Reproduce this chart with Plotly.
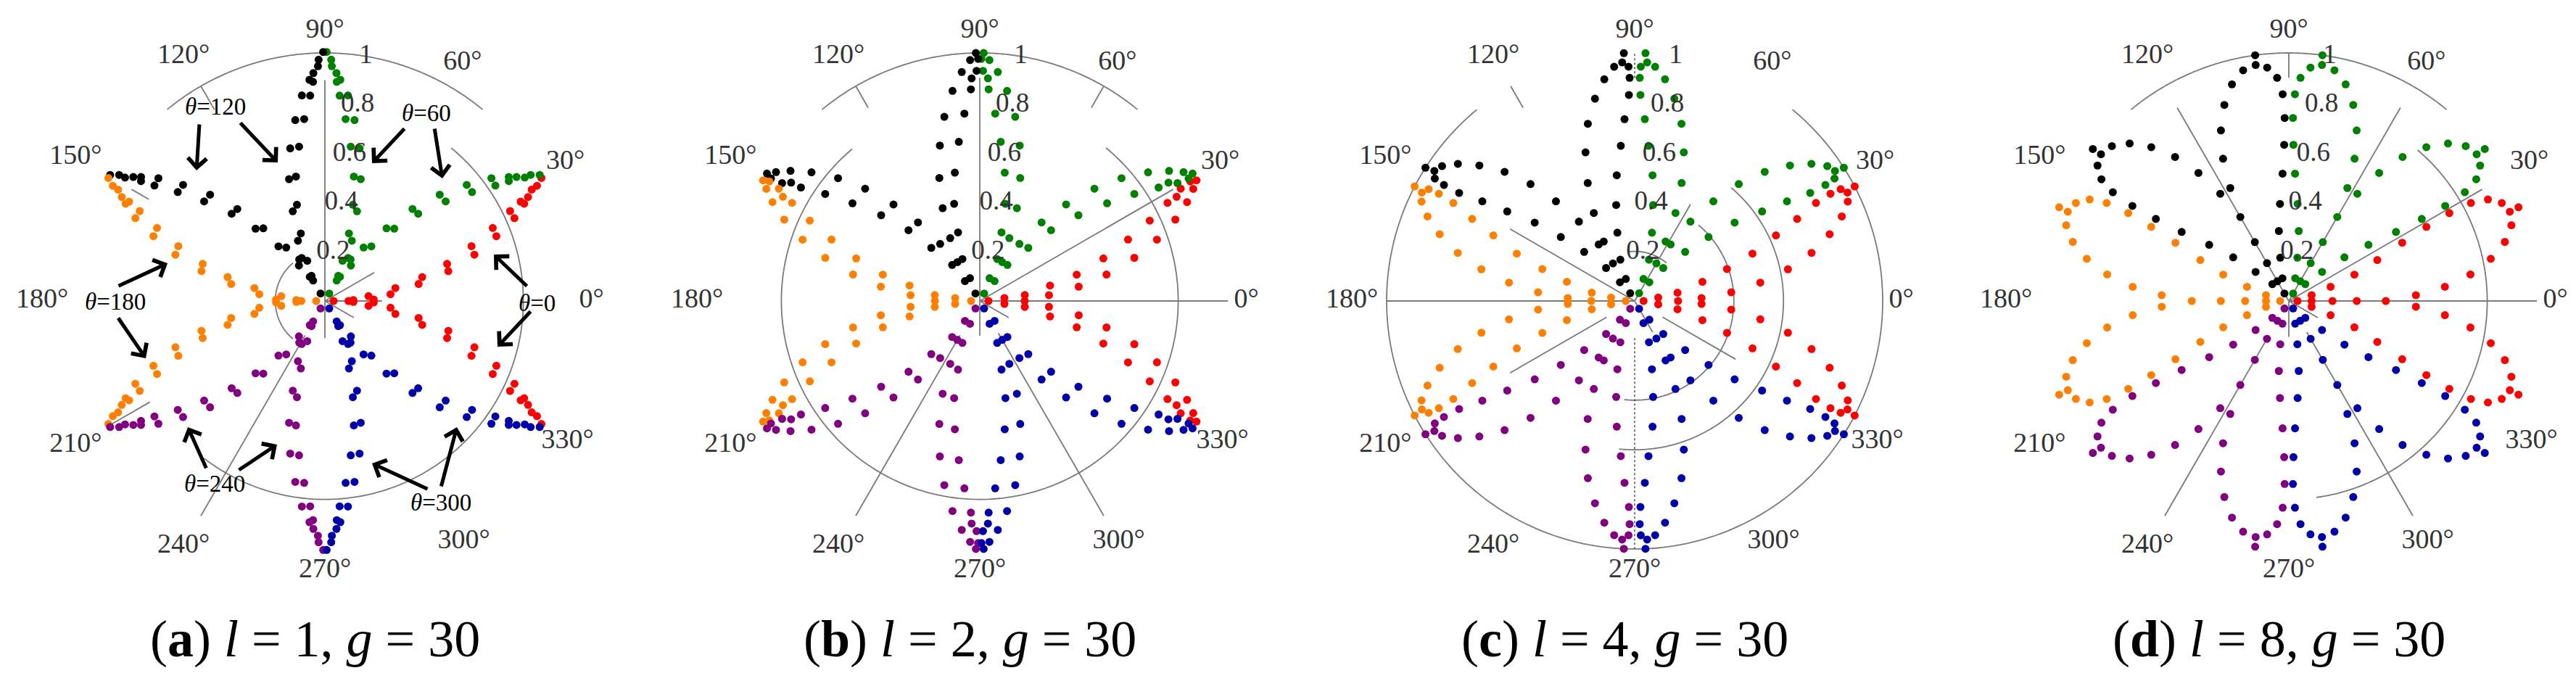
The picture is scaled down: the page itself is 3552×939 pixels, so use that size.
import numpy as np
import plotly.graph_objects as go

W, H = 3552, 939
FONT = "Liberation Serif"
LABEL_GRAY = "#333333"
GRID_GRAY = "#7a7a7a"

# ---------------- data ----------------
SERIES_THETA = [0, 60, 120, 180, 240, 300]
SERIES_COLORS = ["#FF0000", "#008000", "#000000", "#FF8000", "#800080", "#0000A8"]

ANGLE_TICKS = [0, 30, 60, 90, 120, 150, 180, 210, 240, 270, 300, 330]
ANGLE_LABELS = [f"{a}°" for a in ANGLE_TICKS]
RADIAL_TICKS = [0.2, 0.4, 0.6, 0.8, 1.0]
RADIAL_LABELS = ["0.2", "0.4", "0.6", "0.8", "1"]

PANEL_LETTERS = ["a", "b", "c", "d"]
L_VALUES = [1, 2, 4, 8]
G_VALUE = 30

# pattern of the theta=0 series (points on the centre line, and the upper lobe,
# which is mirrored below the centre line); other series are the same pattern
# turned to their own steering angle.
A_AXIS_R = [0.035, 0.095]
A_LOBE_R = [0.115, 0.177, 0.197, 0.266, 0.289, 0.384, 0.404, 0.512, 0.515, 0.631, 0.631,
            0.739, 0.738, 0.834, 0.830, 0.894, 0.885, 0.920, 0.947, 0.973, 1.004]
A_LOBE_PHI = [2.0, 6.3, 1.7, 5.9, 10.4, 10.3, 13.8, 13.6, 16.9, 17.2, 20.5,
              20.7, 23.5, 23.6, 25.9, 26.0, 26.9, 27.1, 28.3, 28.5, 29.6]

B_AXIS_R = [0.035, 0.181]
B_LOBE_R = [0.100, 0.183, 0.280, 0.290, 0.403, 0.405, 0.522, 0.527, 0.647, 0.647,
            0.756, 0.758, 0.854, 0.854, 0.898, 0.926, 0.928, 0.972, 0.976, 1.000]
B_LOBE_PHI = [6.7, 7.5, 4.8, 12.4, 8.2, 15.2, 11.8, 19.0, 15.6, 22.5,
              19.1, 25.3, 22.6, 27.6, 27.9, 25.5, 29.2, 27.7, 29.6, 29.1]

C_AXIS_R = [0.036, 0.175]
C_LOBE_R = [0.096, 0.176, 0.270, 0.284, 0.391, 0.394, 0.512, 0.512, 0.631, 0.628,
            0.739, 0.734, 0.831, 0.831, 0.902, 0.900, 0.948, 0.963, 0.945, 1.000]
C_LOBE_PHI = [8.2, 10.9, 2.5, 15.8, 5.1, 19.1, 8.3, 21.9, 11.7, 24.9,
              15.2, 26.8, 18.9, 28.4, 22.2, 28.7, 25.0, 27.0, 28.5, 27.5]

D_AXIS_R = [0.035, 0.092, 0.176, 0.274, 0.391]
D_LOBE_R = [0.095, 0.178, 0.285, 0.393, 0.514, 0.513, 0.630, 0.632, 0.738, 0.740,
            0.834, 0.832, 0.901, 0.903, 0.945, 0.948, 0.961, 1.000]
D_LOBE_PHI = [14.3, 18.8, 21.9, 24.8, 27.2, 2.6, 28.3, 5.2, 28.7, 8.3,
              28.3, 11.8, 27.0, 15.3, 24.7, 18.8, 22.0, 22.2]

# partial grid of each panel: arcs (r, theta_from, theta_to) and spokes (theta, r_from, r_to)
A_ARCS = [(1.0, 50.5, 129.5), (0.8, 232.5, 410.5), (0.2, 130, 230)]
A_SPOKES = [(90, 0, 0.89), (270, 0, 0.15), (0, 0, 0.23), (30, 0, 0.23), (330, 0, 0.135),
            (240, 0.16, 1.0), (120, 0.89, 1.0), (150, 0.82, 0.9), (210, 0.815, 0.99)]
A_DOTTED = []

B_ARCS = [(1.0, 50.5, 129.5), (0.8, 130, 410.5)]
B_SPOKES = [(0, 0, 1.0), (30, 0, 0.9), (330, 0, 0.135), (90, 0, 0.9), (270, 0, 0.14),
            (240, 0.16, 1.0), (300, 0.15, 1.0), (60, 0.9, 1.0), (120, 0.9, 1.0)]
B_DOTTED = []

C_ARCS = [(1.0, 129.5, 410.5), (0.6, 264, 409.5), (0.4, 264, 410), (0.2, 50, 96)]
C_SPOKES = [(180, 0, 1.0), (150, 0, 0.58), (210, 0.13, 0.58), (60, 0, 0.45),
            (330, 0.13, 0.47), (300, 0, 0.145), (120, 0.9, 1.0)]
C_DOTTED = [(270, 0.15, 1.0), (90, 0.9, 1.0)]

D_ARCS = [(1.0, 50.5, 129.5), (0.8, 278, 409.5)]
D_SPOKES = [(0, 0, 1.0), (30, 0, 0.9), (60, 0, 0.9), (120, 0, 0.9), (90, 0.9, 1.0),
            (330, 0, 0.135), (270, 0, 0.145), (240, 0.16, 1.0), (300, 0.145, 1.0)]
D_DOTTED = []

PANELS = [
    dict(axis_r=A_AXIS_R, lobe_r=A_LOBE_R, lobe_phi=A_LOBE_PHI, arcs=A_ARCS, spokes=A_SPOKES, dotted=A_DOTTED),
    dict(axis_r=B_AXIS_R, lobe_r=B_LOBE_R, lobe_phi=B_LOBE_PHI, arcs=B_ARCS, spokes=B_SPOKES, dotted=B_DOTTED),
    dict(axis_r=C_AXIS_R, lobe_r=C_LOBE_R, lobe_phi=C_LOBE_PHI, arcs=C_ARCS, spokes=C_SPOKES, dotted=C_DOTTED),
    dict(axis_r=D_AXIS_R, lobe_r=D_LOBE_R, lobe_phi=D_LOBE_PHI, arcs=D_ARCS, spokes=D_SPOKES, dotted=D_DOTTED),
]

# annotation labels of panel (a): steering angle labels with two arrows each
ANNOT_LABELS = ["0", "60", "120", "180", "240", "300"]

# ---------------- layout geometry (pixels) ----------------
CENTERS_X = [440, 1343, 2246, 3148]
CENTER_Y = 407
RADIUS = 342          # pixel radius of r = 1
R_MAX = 1.175         # radial range kept a little beyond 1 so the angle labels fit inside
# radius (in r units) at which each angle label is centred
ANGLE_LABEL_R = [1.075, 1.12, 1.11, 1.09, 1.14, 1.16, 1.14, 1.16, 1.14, 1.085, 1.12, 1.13]
RADIAL_LABEL_THETA = 80.5

def px(x, y):
    return x / W, 1 - y / H

fig = go.Figure()

for i, p in enumerate(PANELS):
    sp = "polar" if i == 0 else f"polar{i + 1}"
    gline = dict(color=GRID_GRAY, width=1.8)
    for (r, t0, t1) in p["arcs"]:
        th = np.linspace(t0, t1, 200)
        fig.add_trace(go.Scatterpolar(r=[r] * len(th), theta=th, mode="lines", line=gline,
                                      subplot=sp, hoverinfo="skip", showlegend=False, cliponaxis=False))
    for (t, r0, r1) in p["spokes"]:
        fig.add_trace(go.Scatterpolar(r=[r0, r1], theta=[t, t], mode="lines", line=gline,
                                      subplot=sp, hoverinfo="skip", showlegend=False, cliponaxis=False))
    for (t, r0, r1) in p["dotted"]:
        fig.add_trace(go.Scatterpolar(r=[r0, r1], theta=[t, t], mode="lines",
                                      line=dict(color="#444444", width=1.4, dash="dot"),
                                      subplot=sp, hoverinfo="skip", showlegend=False, cliponaxis=False))
    # data series
    axis_r = list(p["axis_r"])
    lobe_r = list(p["lobe_r"])
    lobe_phi = list(p["lobe_phi"])
    rel_phi = [0.0] * len(axis_r) + lobe_phi + [-v for v in lobe_phi]
    rr = axis_r + lobe_r + lobe_r
    for t0, col in zip(SERIES_THETA, SERIES_COLORS):
        fig.add_trace(go.Scatterpolar(
            r=rr, theta=[t0 + v for v in rel_phi], mode="markers",
            marker=dict(size=11, color=col, line=dict(width=0)),
            subplot=sp, showlegend=False, cliponaxis=False, name=f"θ={t0}"))
    # radial tick labels
    fig.add_trace(go.Scatterpolar(
        r=RADIAL_TICKS, theta=[RADIAL_LABEL_THETA] * len(RADIAL_TICKS), mode="text", text=RADIAL_LABELS,
        textfont=dict(family=FONT, size=37, color=LABEL_GRAY), textposition="middle center",
        subplot=sp, hoverinfo="skip", showlegend=False, cliponaxis=False))
    # angle labels
    fig.add_trace(go.Scatterpolar(
        r=ANGLE_LABEL_R, theta=ANGLE_TICKS, mode="text", text=ANGLE_LABELS,
        textfont=dict(family=FONT, size=38, color=LABEL_GRAY), textposition="middle center",
        subplot=sp, hoverinfo="skip", showlegend=False, cliponaxis=False))

layout = dict(width=W, height=H, margin=dict(l=0, r=0, t=0, b=0),
              paper_bgcolor="white", plot_bgcolor="white", showlegend=False,
              font=dict(family=FONT))

DOMAIN_R = RADIUS * R_MAX
for i, cx in enumerate(CENTERS_X):
    key = "polar" if i == 0 else f"polar{i + 1}"
    x0, _ = px(cx - DOMAIN_R, 0)
    x1, _ = px(cx + DOMAIN_R, 0)
    _, y0 = px(0, CENTER_Y + DOMAIN_R)
    _, y1 = px(0, CENTER_Y - DOMAIN_R)
    layout[key] = dict(
        domain=dict(x=[max(0, x0), min(1, x1)], y=[y0, y1]),
        bgcolor="rgba(0,0,0,0)",
        radialaxis=dict(range=[0, R_MAX], visible=False, showgrid=False),
        angularaxis=dict(rotation=0, direction="counterclockwise",
                         showgrid=False, showline=False, ticks="", showticklabels=False),
    )

annotations = []
# captions
for i, cx in enumerate(CENTERS_X):
    x, y = px(cx - 14, 873)
    annotations.append(dict(
        x=x, y=y, xref="paper", yref="paper", xanchor="center", yanchor="middle",
        text=f"(<b>{PANEL_LETTERS[i]}</b>) <i>l</i> = {L_VALUES[i]}, <i>g</i> = {G_VALUE}",
        showarrow=False, font=dict(family=FONT, size=72, color="black")))

# panel (a) arrow labels: text centre, and two arrows (tail -> head) per label
ANNOT_POS = {
    "0":   ((732, 410), [((720, 388), (673, 343)), ((725, 420), (678, 470))]),
    "60":  ((580, 148), [((551, 168), (505, 217)), ((591, 168), (602, 238))]),
    "120": ((289, 139), [((267, 162), (263, 227)), ((322, 160), (375, 216))]),
    "180": ((151, 408), [((154, 387), (223, 355)), ((154, 429), (193, 486))]),
    "240": ((288, 659), [((277, 639), (251, 581)), ((320, 641), (374, 605))]),
    "300": ((600, 685), [((583, 667), (505, 631)), ((600, 664), (622, 581))]),
}
for lab in ANNOT_LABELS:
    (tx, ty), arrows = ANNOT_POS[lab]
    x, y = px(tx, ty)
    annotations.append(dict(x=x, y=y, xref="paper", yref="paper", xanchor="center", yanchor="middle",
                            text=f"<i>θ</i>={lab}", showarrow=False,
                            font=dict(family=FONT, size=33, color="black")))
    for (t, h) in arrows:
        hx, hy = px(*h)
        annotations.append(dict(x=hx, y=hy, xref="paper", yref="paper", text="",
                                showarrow=True, axref="pixel", ayref="pixel",
                                ax=t[0] - h[0], ay=t[1] - h[1],
                                arrowhead=4, arrowsize=1.0, arrowwidth=5, arrowcolor="black",
                                standoff=0, startstandoff=0))

layout["annotations"] = annotations
fig.update_layout(**layout)
fig.write_html("out.html")
